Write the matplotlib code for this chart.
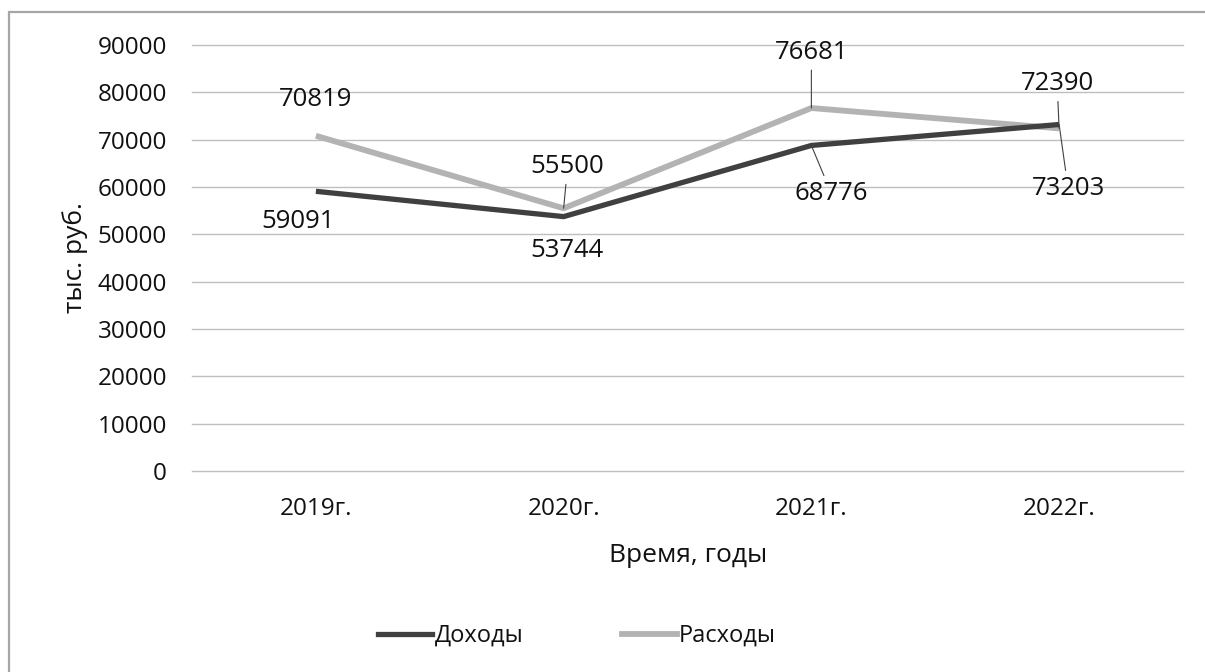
import matplotlib
matplotlib.use('Agg')
import matplotlib.pyplot as plt
from matplotlib.lines import Line2D
from matplotlib.patches import Rectangle

plt.rcParams['font.family'] = ['Open Sans', 'DejaVu Sans']

years = ['2019г.', '2020г.', '2021г.', '2022г.']
income = [59091, 53744, 68776, 73203]
expenses = [70819, 55500, 76681, 72390]
yticks = list(range(0, 90001, 10000))

# label offsets in pixels (dx, dy) and whether a leader line is drawn
income_offsets = [(-18, -30, False), (3, -34, False), (20, -48, True), (9, -64, True)]
expense_offsets = [(0, 36, False), (4, 42, True), (0, 56, True), (-2, 45, True)]

W, H = 1205, 672
fig = plt.figure(figsize=(W / 100, H / 100), dpi=100)
fig.patches.append(Rectangle((9 / W, -0.05), 1.1, 1 - 12 / H + 0.05, transform=fig.transFigure,
                             fill=False, edgecolor='#a6a6a6', linewidth=1.6))

ax = fig.add_axes([192 / W, 1 - 471 / H, (1183 - 192) / W, (471 - 45) / H])
x = list(range(len(years)))
ax.plot(x, income, color='#404040', linewidth=3.8, solid_capstyle='butt', label='Доходы', zorder=3)
ax.plot(x, expenses, color='#b3b3b3', linewidth=4.2, solid_capstyle='butt', label='Расходы', zorder=2)

ax.set_xlim(-0.5, len(years) - 0.5)
ax.set_ylim(0, 90000)
ax.set_yticks(yticks)
ax.set_yticklabels([str(v) for v in yticks])
ax.set_xticks(x)
ax.set_xticklabels(years)
ax.tick_params(axis='y', length=0, pad=18, labelsize=17.5, labelcolor='#111111')
ax.tick_params(axis='x', length=0, pad=19, labelsize=17.5, labelcolor='#111111')
ax.grid(axis='y', color='#bfbfbf', linewidth=1.0)
for gl in ax.get_ygridlines():
    gl.set_clip_on(False)
ax.set_axisbelow(True)
for s in ax.spines.values():
    s.set_visible(False)


def put_labels(values, offsets):
    for i, (v, (dx, dy, lead)) in enumerate(zip(values, offsets)):
        props = None
        if lead:
            props = dict(arrowstyle='-', color='#404040', linewidth=0.8, shrinkA=2, shrinkB=0)
        ax.annotate(str(v), xy=(i, v), xytext=(dx, dy), textcoords='offset pixels',
                    ha='center', va='center', fontsize=18.5, color='#111111',
                    arrowprops=props, zorder=4)


put_labels(income, income_offsets)
put_labels(expenses, expense_offsets)

fig.text(75 / W, 1 - 258 / H, 'тыс. руб.', rotation=90, ha='center', va='center', fontsize=19, color='#111111')
fig.text(688 / W, 1 - 555 / H, 'Время, годы', ha='center', va='center', fontsize=19, color='#111111')

handles = [Line2D([], [], color='#404040', linewidth=3.8),
           Line2D([], [], color='#b3b3b3', linewidth=4.2)]
fig.legend(handles, ['Доходы', 'Расходы'], loc='center', bbox_to_anchor=(577 / W, 1 - 636 / H),
           ncol=2, frameon=False, fontsize=17, handlelength=2.3, handletextpad=0.1, columnspacing=4.2,
           labelcolor='#111111')

fig.savefig('out.png', dpi=100)
